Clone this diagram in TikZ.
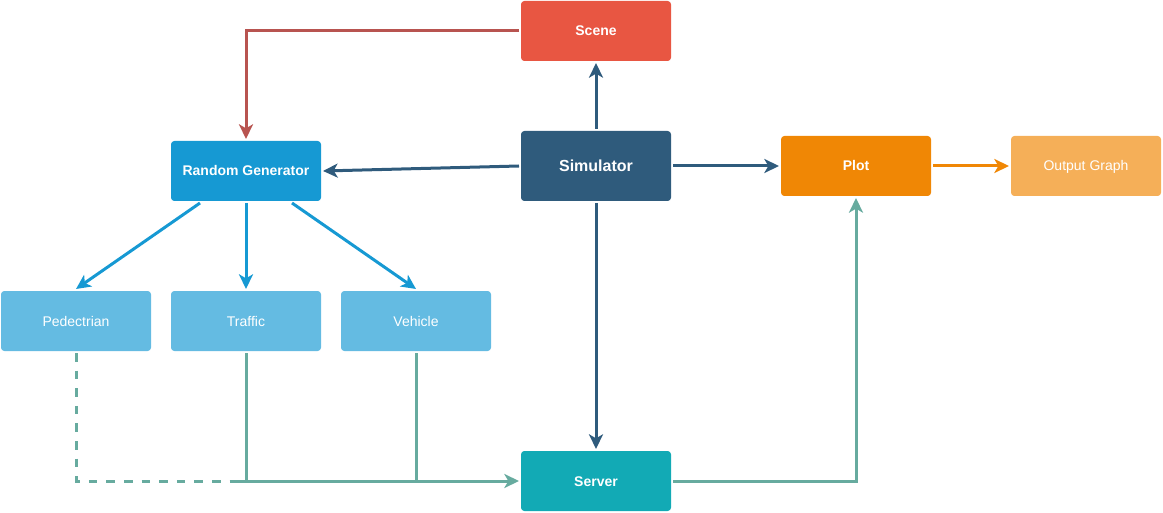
\documentclass[tikz,border=0pt]{standalone}
\usepackage{fontspec}
\setmainfont{Liberation Sans}
\usetikzlibrary{arrows.meta,calc}

\definecolor{scenered}{HTML}{E85642}
\definecolor{genblue}{HTML}{1699D3}
\definecolor{simnavy}{HTML}{2F5B7C}
\definecolor{plotorange}{HTML}{F08705}
\definecolor{outorange}{HTML}{F5AF58}
\definecolor{lightblue}{HTML}{64BBE2}
\definecolor{serverteal}{HTML}{12AAB5}
\definecolor{edgered}{HTML}{B85450}
\definecolor{edgeteal}{HTML}{67AB9F}

\tikzset{
  box/.style={rectangle, rounded corners=2.5pt, minimum width=112.5pt,
    minimum height=45pt, inner sep=0pt, outer sep=1.5pt, text=white,
    text height=7.5pt, text depth=0pt,
    font=\fontsize{10.5}{12}\selectfont},
  boldbox/.style={box, font=\fontsize{10.5}{12}\selectfont\bfseries},
  link/.style={line width=2.25pt, -{Stealth[length=11pt,width=10.5pt,inset=3pt]}},
  plainlink/.style={line width=2.25pt},
}

\begin{document}
\begin{tikzpicture}[x=0.75pt,y=-0.75pt]
  \useasboundingbox (0,0) rectangle (1163,513);

  % blocks
  \node[boldbox, fill=scenered] (scene) at (596,31) {Scene};
  \node[boldbox, fill=genblue] (rg) at (246,171) {Random Generator};
  \node[boldbox, fill=simnavy, minimum height=52.5pt, text height=8.6pt,
        font=\fontsize{12}{14}\selectfont\bfseries] (sim) at (596,166) {Simulator};
  \node[boldbox, fill=plotorange] (plot) at (856,166) {Plot};
  \node[box, fill=outorange] (out) at (1086,166) {Output Graph};
  \node[box, fill=lightblue] (ped) at (76,321) {Pedectrian};
  \node[box, fill=lightblue] (traffic) at (246,321) {Traffic};
  \node[box, fill=lightblue] (vehicle) at (416,321) {Vehicle};
  \node[boldbox, fill=serverteal] (server) at (596,481) {Server};

  % simulator outputs
  \draw[link, simnavy] (sim.north) -- (scene.south);
  \draw[link, simnavy] (sim.west) -- (rg.east);
  \draw[link, simnavy] (sim.east) -- (plot.west);
  \draw[link, simnavy] (sim.south) -- (server.north);

  % scene feeds the generator
  \draw[link, edgered] (scene.west) -| (rg.north);

  % generator branches
  \draw[link, genblue] ($(rg.south)+(-46,0)$) -- (ped.north);
  \draw[link, genblue] (rg.south) -- (traffic.north);
  \draw[link, genblue] ($(rg.south)+(46,0)$) -- (vehicle.north);

  % plot to output
  \draw[link, plotorange] (plot.east) -- (out.west);

  % agents to server
  \coordinate (pj) at (236,481);
  \draw[plainlink, edgeteal, dash pattern=on 6.4pt off 6.8pt] (ped.south) |- (pj);
  \draw[link, edgeteal] (pj) -- (server.west);
  \draw[plainlink, edgeteal] (traffic.south) -- (traffic.south |- server.west);
  \draw[plainlink, edgeteal] (vehicle.south) -- (vehicle.south |- server.west);

  % server results to plot
  \draw[link, edgeteal] (server.east) -| (plot.south);
\end{tikzpicture}
\end{document}
